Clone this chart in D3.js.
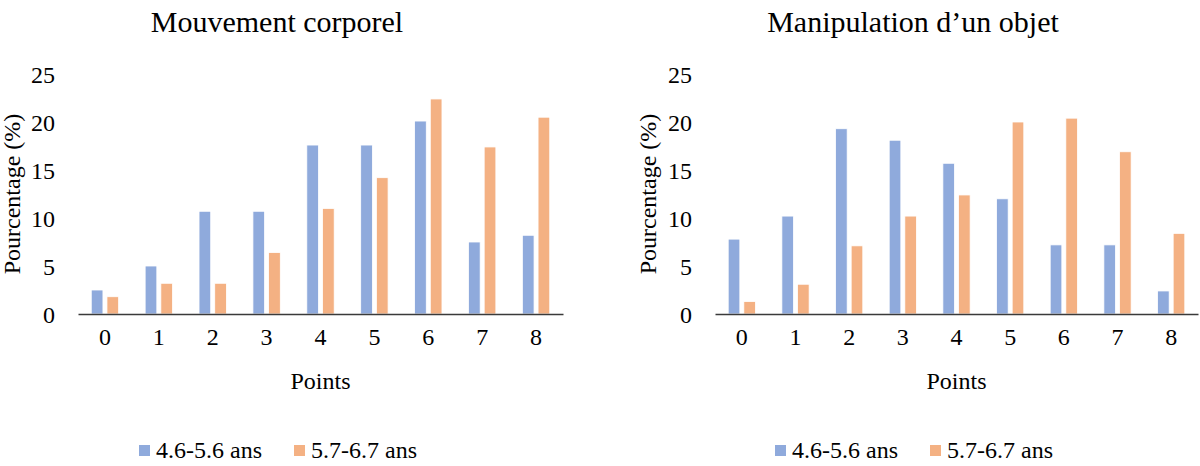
<!DOCTYPE html>
<html>
<head>
<meta charset="utf-8">
<script src="https://cdn.jsdelivr.net/npm/d3@7"></script>
<style>
  html, body { margin: 0; padding: 0; background: #fff; }
  svg { display: block; }
  svg text { font-family: "Liberation Serif", "Times New Roman", serif !important; }
</style>
</head>
<body>
<svg id="chart" width="1200" height="466"></svg>
<script>
// ---- data ----
const categories = ["0", "1", "2", "3", "4", "5", "6", "7", "8"];
const seriesNames = ["4.6-5.6 ans", "5.7-6.7 ans"];
const yTicks = [0, 5, 10, 15, 20, 25];

const mouvement_young = [2.5, 5.0, 10.7, 10.7, 17.6, 17.6, 20.1, 7.5, 8.2];
const mouvement_old   = [1.8, 3.2, 3.2, 6.4, 11.0, 14.2, 22.4, 17.4, 20.5];

const manipulation_young = [7.8, 10.2, 19.3, 18.1, 15.7, 12.0, 7.2, 7.2, 2.4];
const manipulation_old   = [1.3, 3.1, 7.1, 10.2, 12.4, 20.0, 20.4, 16.9, 8.4];

const panelTitles = ["Mouvement corporel", "Manipulation d\u2019un objet"];
const yTitle = "Pourcentage (%)";
const xTitle = "Points";

// ---- style / layout ----
const FONT = "Liberation Serif, Times New Roman, serif";
const colors = ["#8faadc", "#f4b183"];
const svg = d3.select("#chart");

const panels = [
  { title: panelTitles[0], values: [mouvement_young, mouvement_old],
    x0: 78, x1: 563, titleX: 277, yTitleX: 20, tickRight: 55, legendX: 139 },
  { title: panelTitles[1], values: [manipulation_young, manipulation_old],
    x0: 715, x1: 1198, titleX: 913, yTitleX: 656, tickRight: 692, legendX: 775 }
];

const y = d3.scaleLinear().domain([0, 25]).range([314, 74]);

panels.forEach(p => {
  const g = svg.append("g").attr("font-family", FONT);
  const x = d3.scaleBand().domain(categories).range([p.x0, p.x1]).padding(0);
  const xs = d3.scaleBand().domain(seriesNames).range([0, x.bandwidth()])
    .paddingInner(0.255).paddingOuter(0.844);

  // title
  g.append("text").attr("x", p.titleX).attr("y", 32)
    .attr("text-anchor", "middle").attr("font-size", 30).attr("fill", "#000")
    .attr("font-family", FONT)
    .text(p.title);

  // bars
  seriesNames.forEach((s, si) => {
    g.append("g").selectAll("rect")
      .data(p.values[si])
      .join("rect")
      .attr("x", (d, i) => x(categories[i]) + xs(s))
      .attr("width", xs.bandwidth())
      .attr("y", d => y(d))
      .attr("height", d => y(0) - y(d))
      .attr("fill", colors[si])
      .attr("stroke", "#ffffff")
      .attr("stroke-width", 0.8);
  });

  // y axis labels (no line)
  const yAxis = d3.axisLeft(y).tickValues(yTicks).tickSize(0).tickPadding(0);
  const ya = g.append("g").attr("transform", `translate(${p.tickRight},0)`).call(yAxis)
    .attr("font-family", FONT);
  ya.select(".domain").remove();
  ya.selectAll("text").attr("font-size", 24).attr("fill", "#000")
    .attr("font-family", FONT).attr("dy", "0.34em");

  // x axis
  const xAxis = d3.axisBottom(x).tickSize(0).tickPadding(14);
  const xa = g.append("g").attr("transform", `translate(0,${y(0)})`).call(xAxis)
    .attr("font-family", FONT);
  xa.select(".domain").attr("stroke", "#3a3a3a").attr("stroke-width", 1.5);
  xa.selectAll("text").attr("font-size", 24).attr("fill", "#000")
    .attr("font-family", FONT);

  // axis titles
  g.append("text")
    .attr("transform", `translate(${p.yTitleX},194) rotate(-90)`)
    .attr("text-anchor", "middle").attr("font-size", 24).attr("fill", "#000")
    .attr("font-family", FONT)
    .text(yTitle);
  g.append("text").attr("x", (p.x0 + p.x1) / 2).attr("y", 389)
    .attr("text-anchor", "middle").attr("font-size", 24).attr("fill", "#000")
    .attr("font-family", FONT)
    .text(xTitle);

  // legend
  const lg = g.append("g").attr("transform", `translate(${p.legendX},0)`);
  const offsets = [0, 155];
  seriesNames.forEach((s, si) => {
    lg.append("rect").attr("x", offsets[si]).attr("y", 445).attr("width", 11).attr("height", 11)
      .attr("fill", colors[si]);
    lg.append("text").attr("x", offsets[si] + 17).attr("y", 458)
      .attr("font-size", 24).attr("fill", "#000").attr("font-family", FONT).text(s);
  });
});
</script>
</body>
</html>
